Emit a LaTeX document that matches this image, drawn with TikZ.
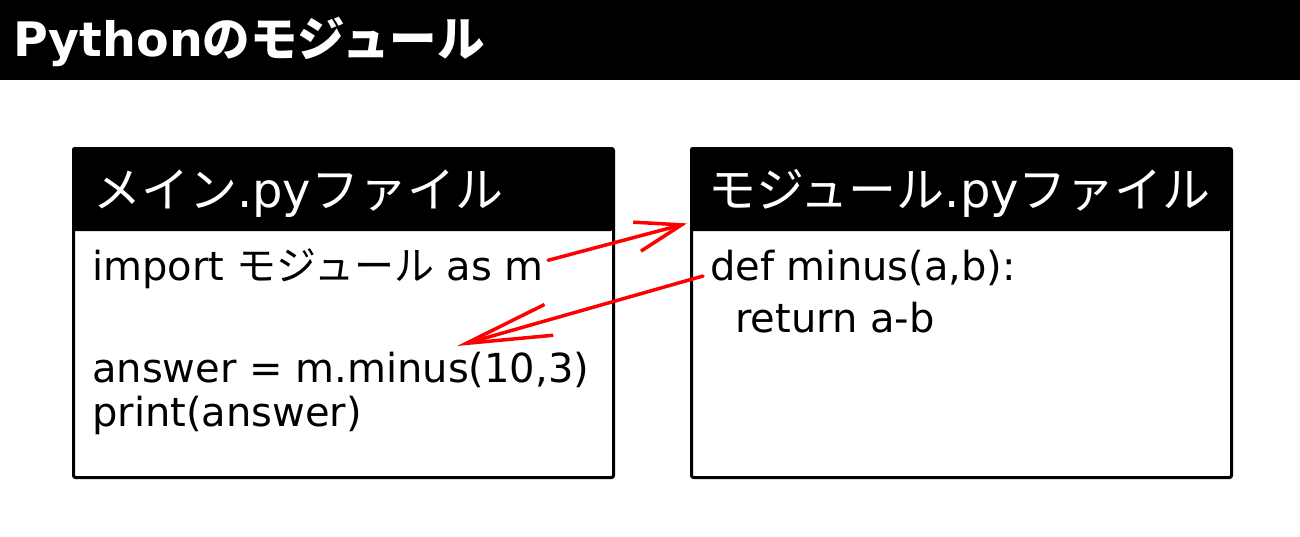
\documentclass[tikz,border=0pt]{standalone}
\usepackage{fontspec}
\setmainfont{DejaVu Sans}
\newfontfamily\jp{Noto Sans CJK JP}
\usetikzlibrary{arrows.meta}
\begin{document}
\begin{tikzpicture}[x=1pt,y=-1pt,
  titlebar/.style={fill=black,inner sep=0pt,minimum width=1300pt,minimum height=80pt,anchor=north west},
  filebox/.style={draw=black,line width=3pt,rounded corners=2pt,inner sep=0pt,minimum width=540pt,minimum height=329pt,anchor=north west},
  headbox/.style={fill=black,rounded corners=2pt,inner sep=0pt,minimum width=540pt,minimum height=84pt,anchor=north west},
  headtext/.style={text=white,inner sep=0pt,anchor=base west,font=\fontsize{48}{52}\selectfont},
  codetext/.style={text=black,inner sep=0pt,anchor=base west,font=\fontsize{40}{46}\selectfont},
  redarrow/.style={draw=red,line width=3.5pt,line cap=round}
]
\useasboundingbox (0,0) rectangle (1300,536);
\node[titlebar] (bar) at (0,0) {};
\node[text=white,inner sep=0pt,anchor=base west,font=\bfseries\fontsize{47.5}{52}\selectfont] (title) at (13,56) {Python{\jp\bfseries のモジュール}};

\node[filebox] (mainbox) at (72,147) {};
\node[headbox] (mainhead) at (72,147) {};
\node[headtext] (mainheadtext) at (93,207) {{\jp メイン}.py{\jp ファイル}};
\node[codetext] (l1) at (92,280) {import {\jp モジュール} as m};
\node[codetext] (l2) at (92,382) {answer = m.minus(10,3)};
\node[codetext] (l3) at (92,426) {print(answer)};

\node[filebox] (modbox) at (690,147) {};
\node[headbox] (modhead) at (690,147) {};
\node[headtext] (modheadtext) at (708,207) {{\jp モジュール}.py{\jp ファイル}};
\node[codetext] (r1) at (710,280) {def minus(a,b):};
\node[codetext] (r2) at (735,332) {return a-b};

\coordinate (a1s) at ([xshift=4pt,yshift=8pt]l1.east);
\coordinate (a1e) at ([xshift=-3pt,yshift=8pt]modhead.south west);
\draw[redarrow,-{Straight Barb[length=46pt,width=30pt,line width=3.5pt]}] (a1s) -- (a1e);
\coordinate (a2s) at ([xshift=-7pt,yshift=4pt]r1.base west);
\coordinate (a2e) at ([xshift=365pt,yshift=36pt]l2.base west);
\draw[redarrow,-{Straight Barb[length=86pt,width=32pt,line width=3.5pt]}] (a2s) -- (a2e);
\end{tikzpicture}
\end{document}
